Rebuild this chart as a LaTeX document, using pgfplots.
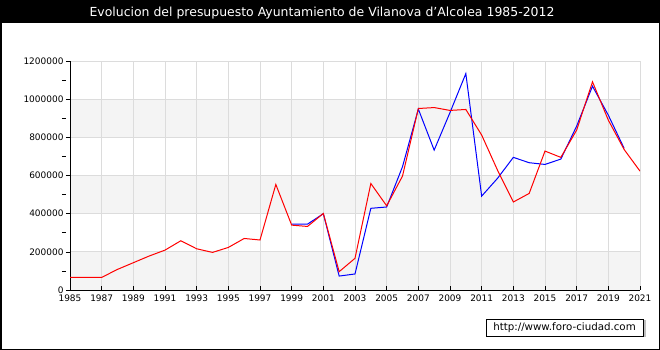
\documentclass[border=0pt]{standalone}
\usepackage{pgfplots}
\pgfplotsset{compat=1.18}
\usepackage{fontspec}
\setmainfont{DejaVu Sans}
\definecolor{band}{HTML}{F4F4F4}
\definecolor{gridc}{HTML}{DCDCDC}
\pgfplotstableread{
year val
1985 66000
1986 66000
1987 66000
1988 108000
1989 143000
1990 178000
1991 209000
1992 258000
1993 216000
1994 197000
1995 223000
1996 270000
1997 262000
1998 553000
1999 340000
2000 333000
2001 401000
2002 96000
2003 166000
2004 558000
2005 441000
2006 597000
2007 951000
2008 956000
2009 941000
2010 946000
2011 812000
2012 628000
2013 461000
2014 506000
2015 728000
2016 695000
2017 838000
2018 1091000
2019 890000
2020 736000
2021 623000
}\redtab
\pgfplotstableread{
year val
1999 345000
2000 345000
2001 400000
2002 73000
2003 84000
2004 428000
2005 435000
2006 646000
2007 948000
2008 733000
2009 930000
2010 1134000
2011 492000
2012 585000
2013 695000
2014 667000
2015 658000
2016 686000
2017 859000
2018 1068000
2019 916000
2020 742000
}\bluetab
\begin{document}
\begin{tikzpicture}
\path[use as bounding box] (0bp,0bp) rectangle (660bp,350bp);
\fill[black] (0bp,327bp) rectangle (660bp,350bp);
\draw[black, line width=1.5bp] (0.75bp,0.75bp) rectangle (659.25bp,349.25bp);
\node[white, font=\fontsize{12.5}{14}\selectfont, anchor=base] at (322bp,333.5bp) {Evolucion del presupuesto Ayuntamiento de Vilanova d'Alcolea 1985-2012};
\fill[band] (70bp,60bp) rectangle (640bp,98.17bp);
\fill[band] (70bp,136.33bp) rectangle (640bp,174.5bp);
\fill[band] (70bp,212.67bp) rectangle (640bp,250.83bp);
\begin{axis}[
  at={(70bp,60bp)}, anchor=south west,
  scale only axis, width=570bp, height=229bp,
  xmin=1985, xmax=2021, ymin=0, ymax=1200000,
  axis x line*=bottom, axis y line*=left,
  axis line style={-, black, line width=0.8bp},
  xtick={1985,1987,...,2021},
  ytick={0,200000,...,1200000},
  minor y tick num=1,
  grid=major,
  major grid style={gridc, line width=0.8bp},
  tick align=inside,
  major tick length=4bp, minor tick length=4bp,
  y tick style={black, xshift=-4bp, line width=0.6bp},
  x tick style={black, line width=0.6bp},
  minor y tick style={black, xshift=-4bp, line width=0.6bp},
  scaled y ticks=false, scaled x ticks=false,
  xticklabel={\pgfmathprintnumber[fixed,precision=0,1000 sep={},assume math mode=true]{\tick}},
  yticklabel={\pgfmathprintnumber[fixed,precision=0,1000 sep={},assume math mode=true]{\tick}},
  tick label style={font=\fontsize{9}{10}\selectfont, black},
  yticklabel style={xshift=-3bp},
  xticklabel style={yshift=-1bp},
]
\addplot[blue, line width=1bp, mark=none] table[x=year, y=val] {\bluetab};
\addplot[red, line width=1bp, mark=none] table[x=year, y=val] {\redtab};
\end{axis}
\fill[gray!50] (488.5bp,12.5bp) rectangle (645.5bp,29.5bp);
\draw[black, fill=white, line width=0.8bp] (486bp,14bp) rectangle (643bp,31bp);
\node[font=\fontsize{10.3}{12}\selectfont, anchor=center] at (564.5bp,22.5bp) {http://www.foro-ciudad.com};
\end{tikzpicture}
\end{document}
